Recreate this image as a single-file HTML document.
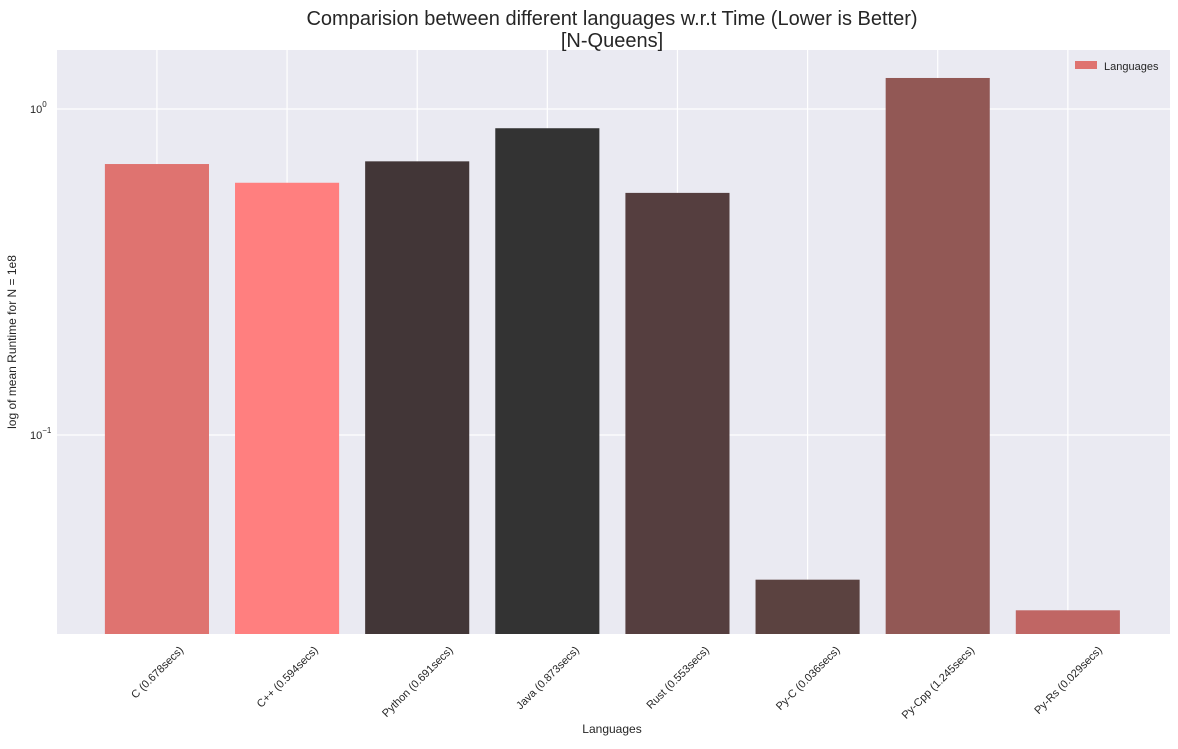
<!DOCTYPE html>
<html><head><meta charset="utf-8"><style>
body{margin:0;background:#fff;font-family:"Liberation Sans",Arial,sans-serif}
svg text{font-family:"Liberation Sans",Arial,sans-serif;fill:#262626}
</style></head><body>
<svg id="chart" width="1178" height="744">
<rect x="57" y="50" width="1113" height="584" fill="#eaeaf2"/>
<g id="grid"></g><g id="bars"></g><g id="xt"></g><g id="yt"></g>
<text x="612" y="25" font-size="20" text-anchor="middle">Comparision between different languages w.r.t Time (Lower is Better)</text>
<text x="612" y="47" font-size="20" text-anchor="middle">[N-Queens]</text>
<text x="612" y="733" font-size="12" text-anchor="middle">Languages</text>
<text transform="translate(16,342) rotate(-90)" font-size="12" text-anchor="middle">log of mean Runtime for N = 1e8</text>
<g>
<rect x="1075" y="61" width="22" height="8" fill="#df7370"/>
<text x="1104" y="70" font-size="11">Languages</text>
</g>
</svg>
<script>
const categories=["C (0.678secs)","C++ (0.594secs)","Python (0.691secs)","Java (0.873secs)","Rust (0.553secs)","Py-C (0.036secs)","Py-Cpp (1.245secs)","Py-Rs (0.029secs)"];
const values=[0.678,0.594,0.691,0.873,0.553,0.036,1.245,0.029];
const colors=["#df7370","#ff7f7f","#423637","#333333","#553e3f","#5b4240","#925855","#c06664"];
const yTicks=[1,0.1];
const yTickExp=["0","\u22121"];
const NS="http://www.w3.org/2000/svg";
const L=57,R=1170,T=50,B=634;
const xmin=-0.768,xmax=7.785;
const ymaxL=Math.log10(1.517),yminL=Math.log10(0.02453);
function xs(i){return L+(i-xmin)/(xmax-xmin)*(R-L);}
function ys(v){return T+(ymaxL-Math.log10(v))/(ymaxL-yminL)*(B-T);}
function mk(t,a,p){const e=document.createElementNS(NS,t);for(const k in a)e.setAttribute(k,a[k]);p.appendChild(e);return e;}
const grid=document.getElementById('grid'),bars=document.getElementById('bars'),xt=document.getElementById('xt'),yt=document.getElementById('yt');
yTicks.forEach((v,i)=>{
 const y=ys(v);
 const g=mk('line',{x1:L,x2:R,y1:y,y2:y,stroke:'#fff','stroke-width':1.2},grid);
 
 
 const t=mk('text',{x:30,y:y+4,'font-size':11},yt);
 
 
 t.textContent='10';
 const s=mk('tspan',{dy:-6,'font-size':8},t);s.textContent=yTickExp[i];
});
categories.forEach((c,i)=>{
 const x=xs(i);
 const g=mk('line',{x1:x,x2:x,y1:T,y2:B,stroke:'#fff','stroke-width':1.2},grid);
 
 
 const w=0.8/(xmax-xmin)*(R-L);
 const y=ys(values[i]);
 const r=mk('rect',{x:x-w/2,y:y,width:w,height:B-y,fill:colors[i]},bars);
 
 
 const t=mk('text',{'font-size':11,'text-anchor':'middle'},xt);
 
 
 t.textContent=c;
 const len=t.getComputedTextLength();
 const h=(len+11)*Math.SQRT1_2;
 t.setAttribute('transform','translate('+x+','+(644+h/2)+') rotate(-45)');
 t.setAttribute('y',4);
});
</script>
</body></html>
